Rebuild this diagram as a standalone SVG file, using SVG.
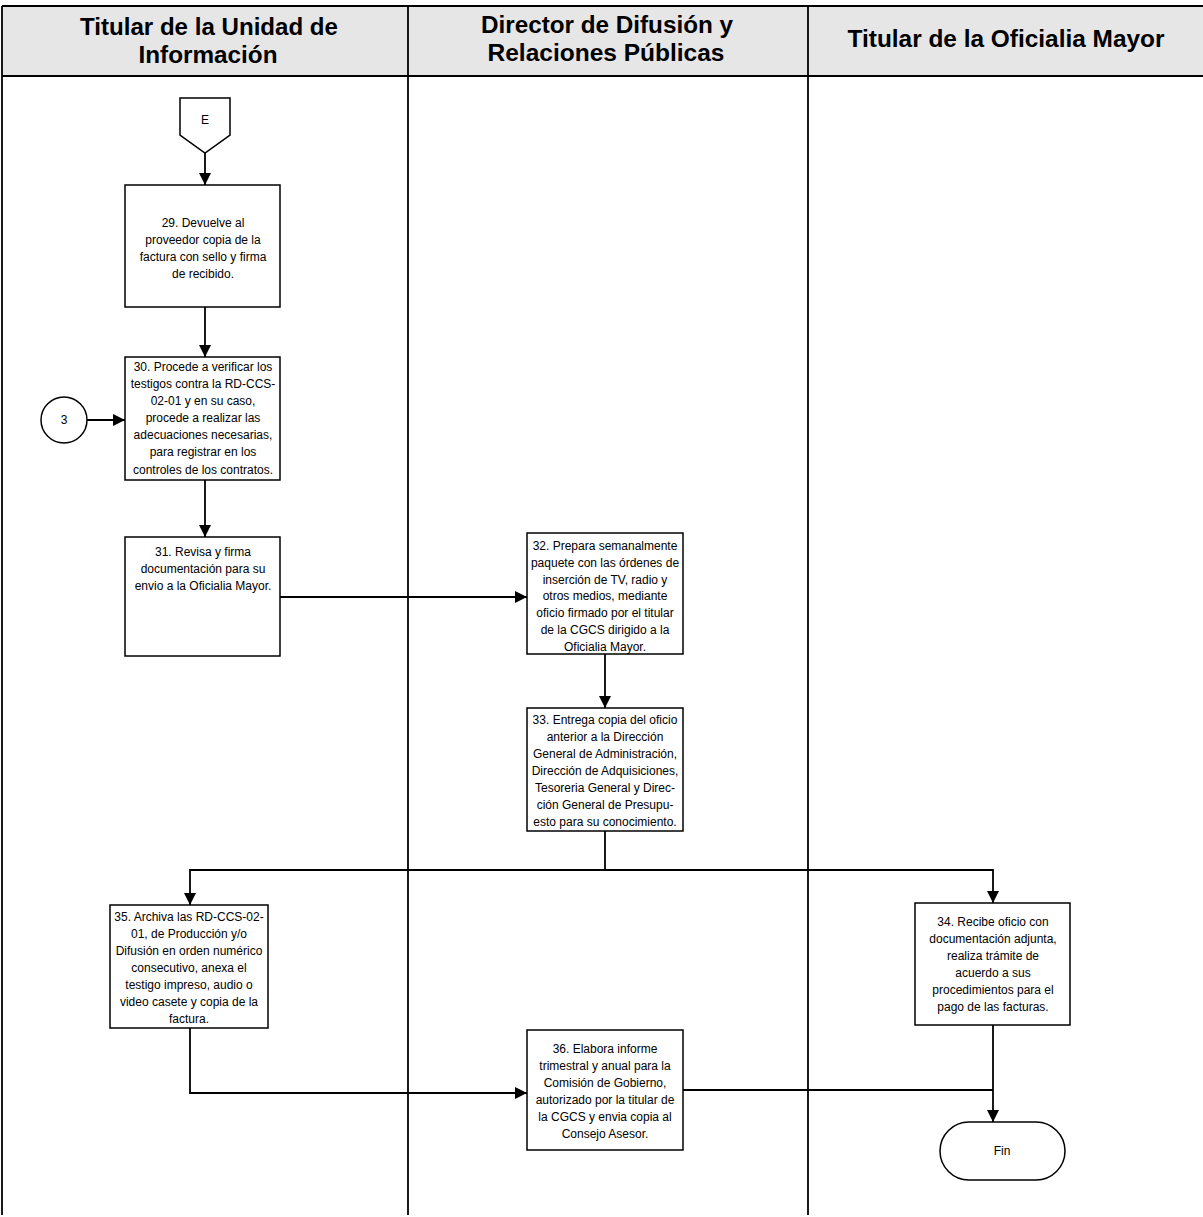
<svg xmlns="http://www.w3.org/2000/svg" width="1203" height="1217" viewBox="0 0 1203 1217">
<style>
.box{fill:#fff;stroke:#000;stroke-width:1.5}
.ln{fill:none;stroke:#000;stroke-width:1.8}
.t{font-family:"Liberation Sans Narrow","Liberation Sans",Arial,sans-serif;font-size:12px;text-anchor:middle;fill:#000}
.h{font-family:"Liberation Sans Narrow","Liberation Sans",Arial,sans-serif;font-size:23px;font-weight:bold;text-anchor:middle;fill:#000}
</style>
<defs>
<marker id="ar" viewBox="0 0 12 12" refX="12" refY="6" markerWidth="12" markerHeight="12" markerUnits="userSpaceOnUse" orient="auto">
<path d="M0,0 L12,6 L0,12 z" fill="#000"/>
</marker>
</defs>
<rect width="1203" height="1217" fill="#fff"/>
<g id="lanes">
<rect x="2" y="6" width="1201" height="70" fill="#e6e6e6"/>
<line x1="2" y1="6" x2="1203" y2="6" class="ln"/>
<line x1="2" y1="76" x2="1203" y2="76" class="ln"/>
<line x1="2" y1="6" x2="2" y2="1215" class="ln" stroke-width="1"/>
<line x1="408" y1="6" x2="408" y2="1215" class="ln"/>
<line x1="808" y1="6" x2="808" y2="1215" class="ln"/>
<text class="h" x="209" y="35" textLength="258" lengthAdjust="spacingAndGlyphs">Titular de la Unidad de</text>
<text class="h" x="208" y="63" textLength="139" lengthAdjust="spacingAndGlyphs">Información</text>
<text class="h" x="607" y="33" textLength="252" lengthAdjust="spacingAndGlyphs">Director de Difusión y</text>
<text class="h" x="606" y="61" textLength="237" lengthAdjust="spacingAndGlyphs">Relaciones Públicas</text>
<text class="h" x="1006" y="47" textLength="317" lengthAdjust="spacingAndGlyphs">Titular de la Oficialia Mayor</text>
</g>
<g id="connectors">
<line x1="205" y1="153" x2="205" y2="185" class="ln" marker-end="url(#ar)"/>
<line x1="205" y1="307" x2="205" y2="357" class="ln" marker-end="url(#ar)"/>
<line x1="87" y1="420" x2="125" y2="420" class="ln" marker-end="url(#ar)"/>
<line x1="205" y1="480" x2="205" y2="537" class="ln" marker-end="url(#ar)"/>
<line x1="280" y1="597" x2="527" y2="597" class="ln" marker-end="url(#ar)"/>
<line x1="605" y1="654" x2="605" y2="708" class="ln" marker-end="url(#ar)"/>
<polyline points="605,831 605,870" class="ln"/>
<polyline points="605,870 190,870 190,905" class="ln" marker-end="url(#ar)"/>
<polyline points="605,870 993,870 993,903" class="ln" marker-end="url(#ar)"/>
<polyline points="190,1028 190,1093 527,1093" class="ln" marker-end="url(#ar)"/>
<polyline points="683,1090 993,1090" class="ln"/>
<line x1="993" y1="1025" x2="993" y2="1122" class="ln" marker-end="url(#ar)"/>
</g>
<g id="nodeE">
<path d="M180,98 L230,98 L230,135 L205,153 L180,135 z" class="box"/>
<text class="t" x="205" y="124">E</text>
</g>
<g id="node3">
<circle cx="64" cy="420" r="23" class="box"/>
<text class="t" x="64" y="424">3</text>
</g>
<g id="node29">
<rect x="125" y="185" width="155" height="122" class="box"/>
<text class="t" x="203" y="227">29. Devuelve al</text>
<text class="t" x="203" y="244">proveedor copia de la</text>
<text class="t" x="203" y="261">factura con sello y firma</text>
<text class="t" x="203" y="278">de recibido.</text>
</g>
<g id="node30">
<rect x="125" y="357" width="155" height="123" class="box"/>
<text class="t" x="203" y="371">30. Procede a verificar los</text>
<text class="t" x="203" y="388">testigos contra la RD-CCS-</text>
<text class="t" x="203" y="405">02-01 y en su caso,</text>
<text class="t" x="203" y="422">procede a realizar las</text>
<text class="t" x="203" y="439">adecuaciones necesarias,</text>
<text class="t" x="203" y="456">para registrar en los</text>
<text class="t" x="203" y="474">controles de los contratos.</text>
</g>
<g id="node31">
<rect x="125" y="537" width="155" height="119" class="box"/>
<text class="t" x="203" y="556">31. Revisa y firma</text>
<text class="t" x="203" y="573">documentación para su</text>
<text class="t" x="203" y="590">envio a la Oficialia Mayor.</text>
</g>
<g id="node32">
<rect x="527" y="533" width="156" height="121" class="box"/>
<text class="t" x="605" y="550">32. Prepara semanalmente</text>
<text class="t" x="605" y="567">paquete con las órdenes de</text>
<text class="t" x="605" y="584">inserción de TV, radio y</text>
<text class="t" x="605" y="600">otros medios, mediante</text>
<text class="t" x="605" y="617">oficio firmado por el titular</text>
<text class="t" x="605" y="634">de la CGCS dirigido a la</text>
<text class="t" x="605" y="651">Oficialia Mayor.</text>
</g>
<g id="node33">
<rect x="527" y="708" width="156" height="123" class="box"/>
<text class="t" x="605" y="724">33. Entrega copia del oficio</text>
<text class="t" x="605" y="741">anterior a la Dirección</text>
<text class="t" x="605" y="758">General de Administración,</text>
<text class="t" x="605" y="775">Dirección de Adquisiciones,</text>
<text class="t" x="605" y="792">Tesoreria General y Direc-</text>
<text class="t" x="605" y="809">ción General de Presupu-</text>
<text class="t" x="605" y="826">esto para su conocimiento.</text>
</g>
<g id="node35">
<rect x="110" y="905" width="158" height="123" class="box"/>
<text class="t" x="189" y="921">35. Archiva las RD-CCS-02-</text>
<text class="t" x="189" y="938">01, de Producción y/o</text>
<text class="t" x="189" y="955">Difusión en orden numérico</text>
<text class="t" x="189" y="972">consecutivo, anexa el</text>
<text class="t" x="189" y="989">testigo impreso, audio o</text>
<text class="t" x="189" y="1006">video casete y copia de la</text>
<text class="t" x="189" y="1023">factura.</text>
</g>
<g id="node34">
<rect x="915" y="903" width="155" height="122" class="box"/>
<text class="t" x="993" y="926">34. Recibe oficio con</text>
<text class="t" x="993" y="943">documentación adjunta,</text>
<text class="t" x="993" y="960">realiza trámite de</text>
<text class="t" x="993" y="977">acuerdo a sus</text>
<text class="t" x="993" y="994">procedimientos para el</text>
<text class="t" x="993" y="1011">pago de las facturas.</text>
</g>
<g id="node36">
<rect x="527" y="1030" width="156" height="120" class="box"/>
<text class="t" x="605" y="1053">36. Elabora informe</text>
<text class="t" x="605" y="1070">trimestral y anual para la</text>
<text class="t" x="605" y="1087">Comisión de Gobierno,</text>
<text class="t" x="605" y="1104">autorizado por la titular de</text>
<text class="t" x="605" y="1121">la CGCS y envia copia al</text>
<text class="t" x="605" y="1138">Consejo Asesor.</text>
</g>
<g id="nodeFin">
<rect x="940" y="1122" width="125" height="58" rx="29" ry="29" class="box"/>
<text class="t" x="1002" y="1155">Fin</text>
</g>
</svg>
